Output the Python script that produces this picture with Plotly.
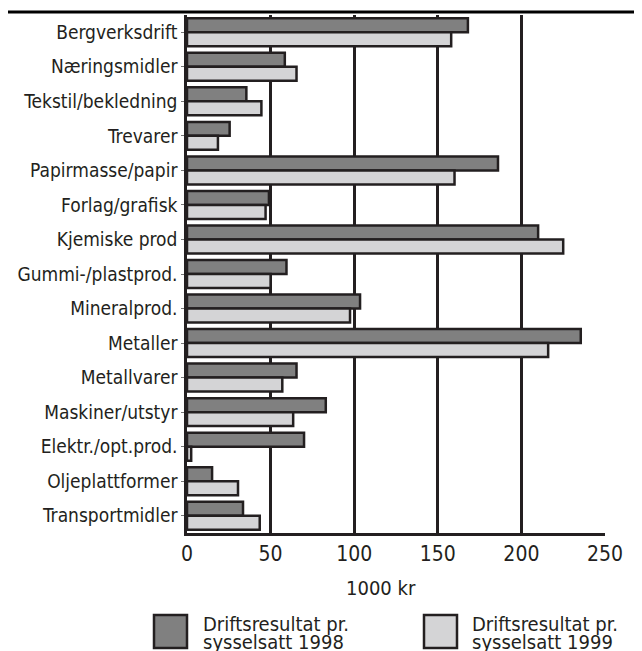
import plotly.graph_objects as go

categories = ["Bergverksdrift", "Næringsmidler", "Tekstil/bekledning", "Trevarer",
              "Papirmasse/papir", "Forlag/grafisk", "Kjemiske prod", "Gummi-/plastprod.",
              "Mineralprod.", "Metaller", "Metallvarer", "Maskiner/utstyr",
              "Elektr./opt.prod.", "Oljeplattformer", "Transportmidler"]
v1998 = [168, 58.5, 35.5, 25.5, 186, 49, 210, 59.5, 103.5, 235.5, 65.5, 83, 70, 15, 33.5]
v1999 = [158, 65.5, 44.5, 18.5, 160, 47, 225, 50, 97.5, 216, 57, 63.5, 2.5, 30.5, 43.5]
x_ticks = [0, 50, 100, 150, 200, 250]
legend_line1 = ["Driftsresultat pr.", "Driftsresultat pr."]
legend_line2 = ["sysselsatt 1998", "sysselsatt 1999"]
colors = ["#808080", "#d4d4d6"]

# page body has an 8px margin: work in window pixels and shift by OFF
OFF = 8
W, H = 642 - OFF, 651 - OFF
L, R, T, B = 187, 605, 15, 533
pw, ph = R - L, B - T

def px(xp):
    return (xp - L) / pw

def py(yp):
    return 1 - (yp - T) / ph

FONT = "DejaVu Sans Condensed, Open Sans"
INK = "#231f20"

fig = go.Figure()
for vals, name, col in zip([v1998, v1999], legend_line2, colors):
    fig.add_trace(go.Bar(
        y=categories, x=vals, orientation="h", name=name,
        marker=dict(color=col, line=dict(color=INK, width=2.5)),
        showlegend=False,
    ))

fig.update_layout(
    width=W, height=H,
    margin=dict(l=L - OFF, r=W - (R - OFF), t=T - OFF, b=H - (B - OFF), autoexpand=False),
    paper_bgcolor="white", plot_bgcolor="white",
    barmode="group", bargap=0.19, bargroupgap=0.0,
    font=dict(family=FONT, color=INK),
    xaxis=dict(range=[0, 250], tickvals=x_ticks, ticktext=[str(t) for t in x_ticks],
               showgrid=True, gridcolor=INK, gridwidth=2.5,
               zeroline=False, showline=True, linecolor=INK, linewidth=2.5,
               ticks="", tickfont=dict(size=21, family=FONT), ticklabelstandoff=0),
    yaxis=dict(categoryorder="array", categoryarray=categories, autorange="reversed",
               showgrid=False, showline=True, linecolor=INK, linewidth=2.5,
               ticks="outside", ticklen=3, tickcolor="#777", tickwidth=1,
               tickfont=dict(size=19, family=FONT), ticklabelstandoff=0),
)

shapes = [dict(type="line", xref="paper", yref="paper",
               x0=px(8), x1=px(636), y0=py(12), y1=py(12),
               line=dict(color="black", width=3))]
annotations = [dict(text="1000 kr", xref="paper", yref="paper", x=px(381), y=py(588),
                    xanchor="center", yanchor="middle", showarrow=False,
                    font=dict(size=20, family=FONT))]

legend_boxes = [(154, 187, 201), (424, 457, 470)]
for (bx0, bx1, tx), l1, l2, col in zip(legend_boxes, legend_line1, legend_line2, colors):
    shapes.append(dict(type="rect", xref="paper", yref="paper",
                       x0=px(bx0), x1=px(bx1), y0=py(648), y1=py(615),
                       fillcolor=col, line=dict(color=INK, width=2.5)))
    annotations.append(dict(text=l1, xref="paper", yref="paper", x=px(tx), y=py(624),
                            xanchor="left", yanchor="middle", showarrow=False,
                            font=dict(size=20, family=FONT)))
    annotations.append(dict(text=l2, xref="paper", yref="paper", x=px(tx), y=py(642),
                            xanchor="left", yanchor="middle", showarrow=False,
                            font=dict(size=20, family=FONT)))

fig.update_layout(shapes=shapes, annotations=annotations)
fig.write_html("out.html")
